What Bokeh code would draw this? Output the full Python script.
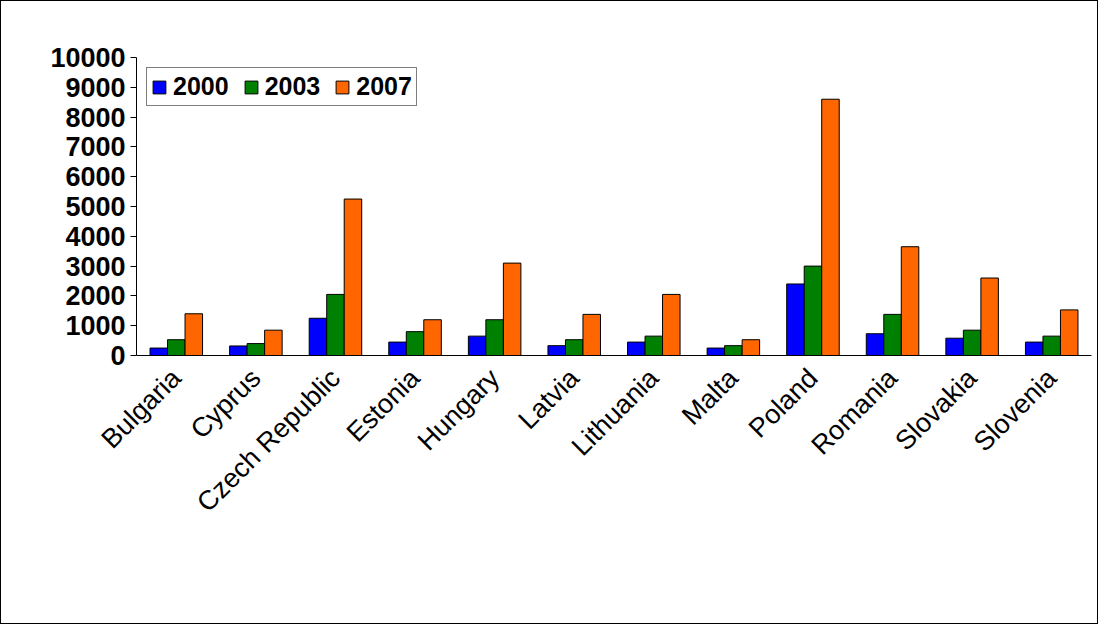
from math import pi
from bokeh.plotting import figure, ColumnDataSource
from bokeh.models import Legend, LegendItem, SingleIntervalTicker
from bokeh.transform import dodge
from bokeh.embed import file_html
from bokeh.resources import INLINE

countries = ["Bulgaria", "Cyprus", "Czech Republic", "Estonia", "Hungary", "Latvia",
             "Lithuania", "Malta", "Poland", "Romania", "Slovakia", "Slovenia"]
y2000 = [250, 320, 1250, 450, 650, 330, 450, 250, 2400, 730, 580, 450]
y2003 = [530, 400, 2050, 800, 1200, 530, 650, 330, 3000, 1380, 850, 650]
y2007 = [1400, 850, 5250, 1200, 3100, 1380, 2050, 530, 8600, 3650, 2600, 1530]

source = ColumnDataSource(data=dict(c=countries, a=y2000, b=y2003, d=y2007))

p = figure(x_range=countries, y_range=(0, 10000), width=1098, height=624,
           output_backend="svg", toolbar_location=None,
           min_border_left=135, min_border_top=56, min_border_right=8, min_border_bottom=270)
p.styles = {"border": "1px solid black"}

w = 0.22
r1 = p.vbar(x=dodge('c', -w, range=p.x_range), top='a', width=w, source=source,
            fill_color="#0000ff", line_color="black")
r2 = p.vbar(x=dodge('c', 0, range=p.x_range), top='b', width=w, source=source,
            fill_color="#008000", line_color="black")
r3 = p.vbar(x=dodge('c', w, range=p.x_range), top='d', width=w, source=source,
            fill_color="#ff6600", line_color="black")

p.outline_line_color = None
p.grid.grid_line_color = None
p.axis.axis_line_color = "black"
p.yaxis.ticker = SingleIntervalTicker(interval=1000)
p.yaxis.minor_tick_line_color = None
p.yaxis.major_tick_line_color = "black"
p.yaxis.major_label_text_font = "Liberation Sans"
p.yaxis.major_label_text_font_style = "bold"
p.yaxis.major_label_text_font_size = "27px"
p.yaxis.major_label_text_color = "black"
p.yaxis.major_tick_out = 6
p.yaxis.major_tick_in = 0
p.xaxis.major_label_orientation = pi / 4
p.xaxis.major_label_text_font = "Liberation Sans"
p.xaxis.major_label_text_font_size = "27px"
p.xaxis.major_label_text_color = "black"
p.xaxis.major_tick_line_color = None
p.xaxis.major_label_standoff = 12
p.x_range.range_padding = 0

legend = Legend(items=[LegendItem(label="2000", renderers=[r1]),
                       LegendItem(label="2003", renderers=[r2]),
                       LegendItem(label="2007", renderers=[r3])],
                orientation="horizontal", location="top_left",
                label_text_font="Liberation Sans", label_text_font_style="bold",
                label_text_font_size="25px", label_text_color="black",
                border_line_color="black",
                glyph_width=16, glyph_height=16, spacing=14, padding=4,
                margin=10, label_standoff=6)
p.add_layout(legend, "center")

open("out.html", "w").write(file_html(p, INLINE))
